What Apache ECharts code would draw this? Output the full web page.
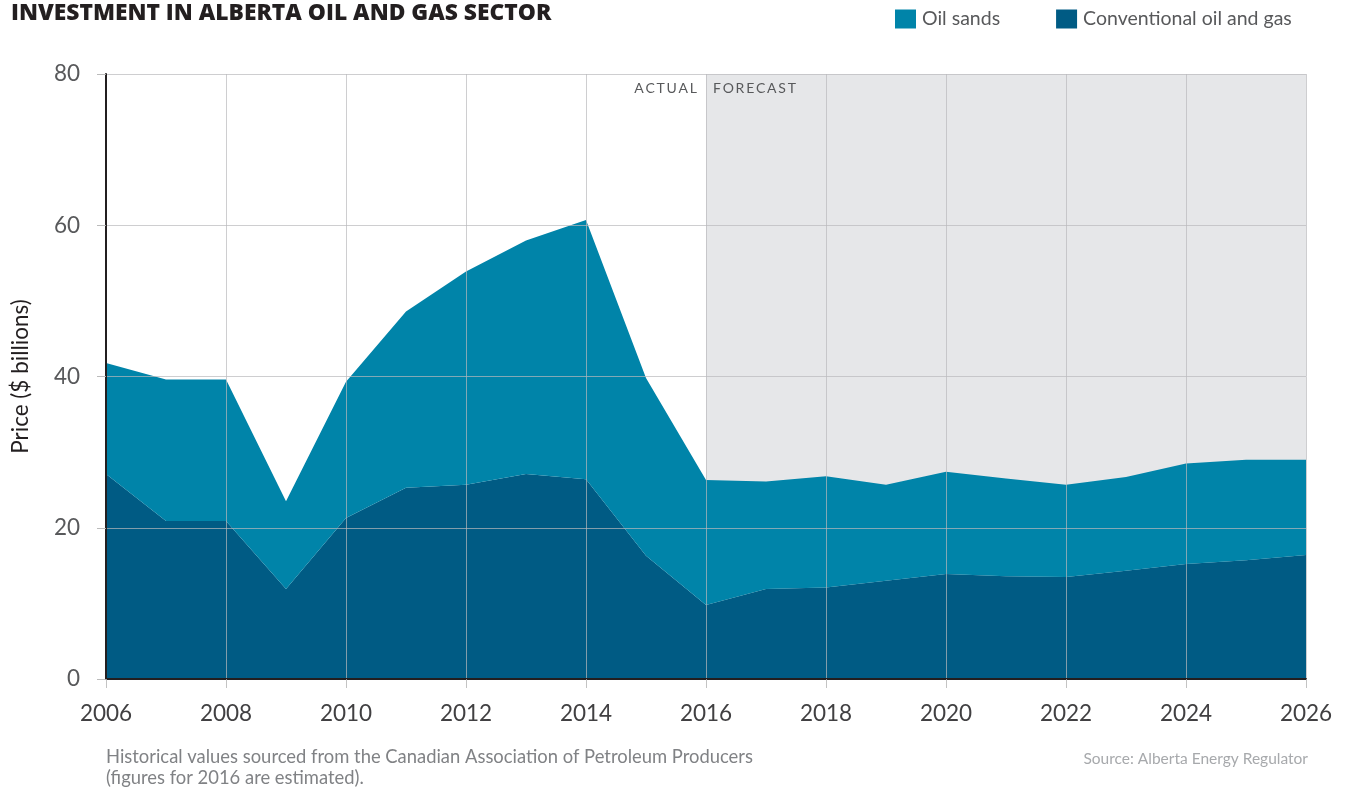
<!DOCTYPE html>
<html>
<head>
<meta charset="utf-8">
<script src="https://cdn.jsdelivr.net/npm/echarts@6/dist/echarts.min.js"></script>
<style>
html,body{margin:0;padding:0;background:#fff;}
#chart{width:1351px;height:792px;}
</style>
</head>
<body>
<div id="chart"></div>
<script>
var years = ['2006','2007','2008','2009','2010','2011','2012','2013','2014','2015','2016','2017','2018','2019','2020','2021','2022','2023','2024','2025','2026'];
var conventional = [27.1,20.9,20.9,11.9,21.3,25.3,25.7,27.1,26.4,16.3,9.8,11.9,12.1,13.0,13.9,13.6,13.5,14.3,15.2,15.7,16.4];
var oilSands = [14.7,18.7,18.7,11.6,18.0,23.3,28.2,30.9,34.3,23.5,16.5,14.2,14.7,12.7,13.5,12.9,12.2,12.4,13.3,13.3,12.6];
var yTicks = [0,20,40,60,80];
var forecastStart = '2016', forecastEnd = '2026';

var FONT = 'Lato, "Open Sans", sans-serif';
var chart = echarts.init(document.getElementById('chart'));
chart.setOption({
  animation: false,
  backgroundColor: '#ffffff',
  title: {
    text: 'INVESTMENT IN ALBERTA OIL AND GAS SECTOR',
    left: 6, top: -3,
    textStyle: {fontFamily: '"Open Sans", sans-serif', fontWeight: 800, fontSize: 22.8, color: '#231f20'}
  },
  legend: {
    data: ['Oil sands', 'Conventional oil and gas'],
    left: 890, top: 4,
    icon: 'rect', itemWidth: 21, itemHeight: 19, itemGap: 56,
    textStyle: {fontFamily: FONT, fontSize: 19.5, color: '#58595b', padding: [0,0,0,1]}
  },
  grid: {left: 106, right: 45, top: 74, bottom: 113},
  xAxis: {
    type: 'category', data: years, boundaryGap: false, z: 5,
    axisLine: {lineStyle: {color: '#231f20', width: 2}},
    axisTick: {interval: 1, length: 9, lineStyle: {color: 'rgba(180,180,180,0.8)', width: 1}},
    axisLabel: {interval: 1, margin: 23, fontFamily: FONT, fontSize: 22.5, color: '#414042'},
    splitLine: {show: true, interval: 1, lineStyle: {color: 'rgba(185,185,188,0.7)', width: 1}}
  },
  yAxis: {
    type: 'value', min: 0, max: 80, interval: 20, z: 5,
    name: 'Price ($ billions)', nameLocation: 'middle', nameRotate: 90, nameGap: 74,
    nameTextStyle: {fontFamily: FONT, fontSize: 22.5, color: '#231f20'},
    axisLine: {show: true, lineStyle: {color: '#231f20', width: 2}},
    axisTick: {show: true, length: 9, lineStyle: {color: 'rgba(180,180,180,0.9)'}},
    axisLabel: {margin: 26, fontFamily: FONT, fontSize: 22.5, color: '#58595b',
      formatter: function (v) { return yTicks.indexOf(v) >= 0 ? String(v) : ''; }},
    splitLine: {lineStyle: {color: 'rgba(185,185,188,0.7)', width: 1}}
  },
  graphic: [
    {type: 'text', z: 100, right: 1351 - 697, top: 81, style: {text: 'A\u2009C\u2009T\u2009U\u2009A\u2009L', font: '14px Lato, "Open Sans", sans-serif', fill: '#58595b'}},
    {type: 'text', z: 100, left: 713, top: 81, style: {text: 'F\u2009O\u2009R\u2009E\u2009C\u2009A\u2009S\u2009T', font: '14px Lato, "Open Sans", sans-serif', fill: '#58595b'}},
    {type: 'text', z: 100, left: 106, top: 747, style: {text: 'Historical values sourced from the Canadian Association of Petroleum Producers\n(figures for 2016 are estimated).', font: '18.4px Lato, "Open Sans", sans-serif', fill: '#808285', lineHeight: 21}},
    {type: 'text', z: 100, right: 43, top: 751, style: {text: 'Source: Alberta Energy Regulator', font: '15.5px Lato, "Open Sans", sans-serif', fill: '#a7a9ac'}}
  ],
  series: [
    {
      name: 'forecastBand', type: 'line', data: [], z: 1, silent: true,
      markArea: {silent: true, itemStyle: {color: '#e6e7e9'}, data: [[{xAxis: forecastStart}, {xAxis: forecastEnd}]]}
    },
    {
      name: 'Conventional oil and gas', type: 'line', stack: 'total', data: conventional, z: 2,
      symbol: 'none', lineStyle: {width: 0}, itemStyle: {color: '#005b84'},
      areaStyle: {color: '#005b84', opacity: 1}
    },
    {
      name: 'Oil sands', type: 'line', stack: 'total', data: oilSands, z: 2,
      symbol: 'none', lineStyle: {width: 0}, itemStyle: {color: '#0084a9'},
      areaStyle: {color: '#0084a9', opacity: 1}
    }
  ]
});
</script>
</body>
</html>
